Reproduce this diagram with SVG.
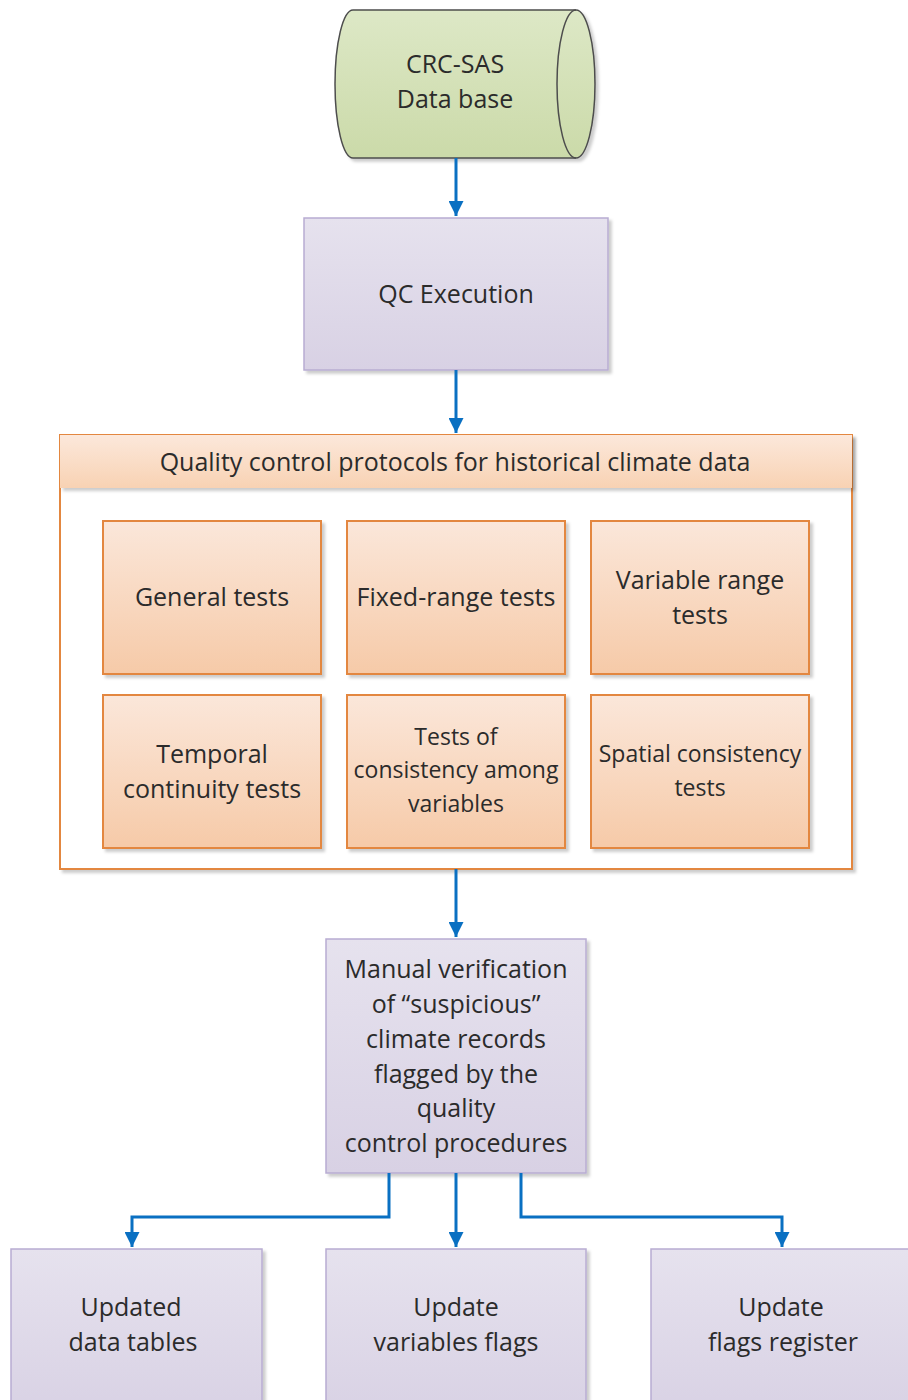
<svg xmlns="http://www.w3.org/2000/svg" width="908" height="1400" viewBox="0 0 908 1400">
<defs>
<linearGradient id="gLav" x1="0" y1="0" x2="0" y2="1"><stop offset="0" stop-color="#e6e2ee"/><stop offset="1" stop-color="#d8d1e4"/></linearGradient>
<linearGradient id="gOr" x1="0" y1="0" x2="0" y2="1"><stop offset="0" stop-color="#fbe7da"/><stop offset="1" stop-color="#f6caa8"/></linearGradient>
<linearGradient id="gHead" x1="0" y1="0" x2="0" y2="1"><stop offset="0" stop-color="#fce8db"/><stop offset="1" stop-color="#f8d2b3"/></linearGradient>
<linearGradient id="gCyl" x1="0" y1="0" x2="0" y2="1"><stop offset="0" stop-color="#dde8c6"/><stop offset="1" stop-color="#cbdaa9"/></linearGradient>
<filter id="sh" x="-10%" y="-10%" width="130%" height="130%"><feDropShadow dx="3" dy="3" stdDeviation="1.5" flood-color="#000" flood-opacity="0.2"/></filter>
<marker id="ah" viewBox="0 0 10 10" refX="10" refY="5" markerWidth="5.5" markerHeight="5" markerUnits="strokeWidth" orient="auto"><path d="M0,0 L10,5 L0,10 Z" fill="#0a70c2"/></marker>
</defs>
<style>
.t{font-family:"Open Sans","Liberation Sans",sans-serif;font-size:25px;fill:#2b2b2b;text-anchor:middle}
.s{font-size:23px}
.lav{fill:url(#gLav);stroke:#b8acd2;stroke-width:1.5}
.or{fill:url(#gOr);stroke:#e3873f;stroke-width:2}
.c{fill:none;stroke:#0a70c2;stroke-width:3}
</style>
<rect width="908" height="1400" fill="#fff"/>

<g id="database">
<path d="M353,10 L576,10 A19,74 0 0 1 576,158 L353,158 A18,74 0 0 1 353,10 Z" fill="url(#gCyl)" stroke="#4d4d4d" stroke-width="1.5" filter="url(#sh)"/>
<path d="M576,10 A19,74 0 0 0 576,158" fill="none" stroke="#4d4d4d" stroke-width="1.5"/>
<text class="t" x="455" y="73">CRC-SAS</text>
<text class="t" x="455" y="108">Data base</text>
</g>

<g id="qc-execution">
<rect class="lav" x="304" y="218" width="304" height="152" filter="url(#sh)"/>
<text class="t" x="456" y="303">QC Execution</text>
</g>

<g id="protocols">
<rect x="60" y="435" width="792" height="434" fill="#fff" stroke="#e3873f" stroke-width="2" filter="url(#sh)"/>
<rect x="60" y="435" width="792" height="53" fill="url(#gHead)" filter="url(#sh)"/>
<text class="t" x="455" y="471">Quality control protocols for historical climate data</text>
</g>

<g id="general-tests">
<rect class="or" x="103" y="521" width="218" height="153" filter="url(#sh)"/>
<text class="t" x="212" y="606">General tests</text>
</g>
<g id="fixed-range-tests">
<rect class="or" x="347" y="521" width="218" height="153" filter="url(#sh)"/>
<text class="t" x="456" y="606">Fixed-range tests</text>
</g>
<g id="variable-range-tests">
<rect class="or" x="591" y="521" width="218" height="153" filter="url(#sh)"/>
<text class="t" x="700" y="589">Variable range</text>
<text class="t" x="700" y="624">tests</text>
</g>
<g id="temporal-continuity-tests">
<rect class="or" x="103" y="695" width="218" height="153" filter="url(#sh)"/>
<text class="t" x="212" y="763">Temporal</text>
<text class="t" x="212" y="798">continuity tests</text>
</g>
<g id="consistency-among-variables">
<rect class="or" x="347" y="695" width="218" height="153" filter="url(#sh)"/>
<text class="t s" x="456" y="745">Tests of</text>
<text class="t s" x="456" y="778">consistency among</text>
<text class="t s" x="456" y="812">variables</text>
</g>
<g id="spatial-consistency-tests">
<rect class="or" x="591" y="695" width="218" height="153" filter="url(#sh)"/>
<text class="t s" x="700" y="762">Spatial consistency</text>
<text class="t s" x="700" y="796">tests</text>
</g>

<g id="manual-verification">
<rect class="lav" x="326" y="939" width="260" height="234" filter="url(#sh)"/>
<text class="t" x="456" y="978">Manual verification</text>
<text class="t" x="456" y="1013">of “suspicious”</text>
<text class="t" x="456" y="1048">climate records</text>
<text class="t" x="456" y="1083">flagged by the</text>
<text class="t" x="456" y="1117">quality</text>
<text class="t" x="456" y="1152">control procedures</text>
</g>

<g id="updated-data-tables">
<rect class="lav" x="11" y="1249" width="251" height="170" filter="url(#sh)"/>
<text class="t" x="131" y="1316">Updated</text>
<text class="t" x="133" y="1351">data tables</text>
</g>
<g id="update-variables-flags">
<rect class="lav" x="326" y="1249" width="260" height="170" filter="url(#sh)"/>
<text class="t" x="456" y="1316">Update</text>
<text class="t" x="456" y="1351">variables flags</text>
</g>
<g id="update-flags-register">
<rect class="lav" x="651" y="1249" width="270" height="170" filter="url(#sh)"/>
<text class="t" x="781" y="1316">Update</text>
<text class="t" x="783" y="1351">flags register</text>
</g>

<g id="connectors">
<path class="c" d="M456,158 L456,216" marker-end="url(#ah)"/>
<path class="c" d="M456,370 L456,433" marker-end="url(#ah)"/>
<path class="c" d="M456,869 L456,937" marker-end="url(#ah)"/>
<path class="c" d="M389,1173 L389,1217 L132,1217 L132,1247" marker-end="url(#ah)"/>
<path class="c" d="M456,1173 L456,1247" marker-end="url(#ah)"/>
<path class="c" d="M521,1173 L521,1217 L782,1217 L782,1247" marker-end="url(#ah)"/>
</g>
</svg>
